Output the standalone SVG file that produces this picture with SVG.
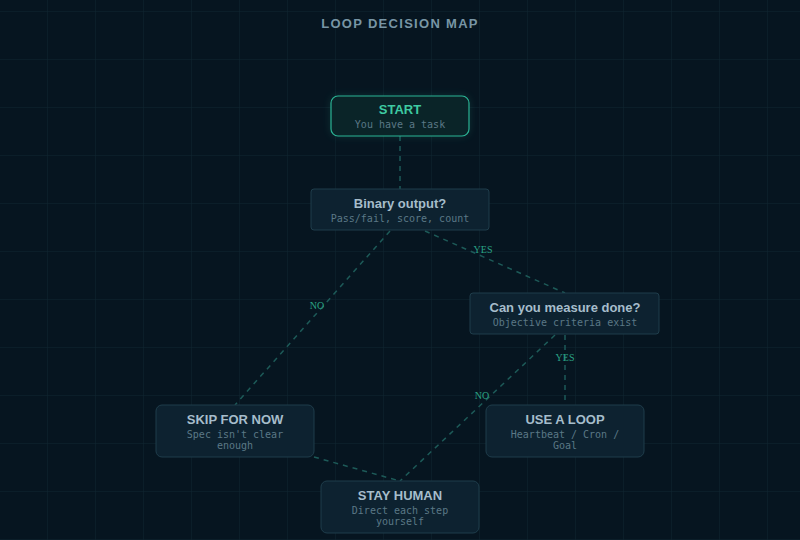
<svg xmlns="http://www.w3.org/2000/svg" width="800" height="540" viewBox="0 0 800 540">
<defs>
<pattern id="grid" x="0" y="12" width="48" height="48" patternUnits="userSpaceOnUse">
<path d="M48 0V48M0 48H48" fill="none" stroke="#0f2631" stroke-width="1"/>
</pattern>
<filter id="glow" x="-30%" y="-50%" width="160%" height="200%">
<feGaussianBlur stdDeviation="4"/>
</filter>
<style>
.title{font-family:"Liberation Sans",Arial,sans-serif;font-weight:bold;font-size:13px;fill:#7895a5;letter-spacing:1.3px;text-anchor:middle}
.box{fill:#0d2230;stroke:#1f3d4b;stroke-width:1}
.start{fill:#0a2428;stroke:#2bb394;stroke-width:1.2}
.h{font-family:"Liberation Sans",Arial,sans-serif;font-weight:bold;font-size:13px;fill:#a6bdcb;text-anchor:middle}
.hs{font-family:"Liberation Sans",Arial,sans-serif;font-weight:bold;font-size:13px;fill:#3ecaa2;text-anchor:middle}
.s{font-family:"DejaVu Sans Mono","Liberation Mono",monospace;font-size:10px;fill:#5b7886;text-anchor:middle}
.c{fill:none;stroke:#1d5a58;stroke-width:1.5;stroke-dasharray:5 5}
.lbl{font-family:"Liberation Serif","Times New Roman",serif;font-size:10px;fill:#2aa285;text-anchor:middle}
</style>
</defs>
<rect width="800" height="540" fill="#061520"/>
<rect width="800" height="540" fill="url(#grid)"/>
<text class="title" x="400" y="28">LOOP DECISION MAP</text>
<g id="connectors">
<path class="c" d="M400 136V189"/>
<path class="c" d="M390 231L235 405"/>
<path class="c" d="M425 231L565 293"/>
<path class="c" d="M555 335L400 481"/>
<path class="c" d="M565 335V405"/>
<path class="c" d="M314 457L400 481"/>
<text class="lbl" x="317" y="309">NO</text>
<text class="lbl" x="483" y="253">YES</text>
<text class="lbl" x="565" y="361">YES</text>
<text class="lbl" x="482" y="399">NO</text>
</g>
<g id="start">
<rect x="331" y="96" width="138" height="40" rx="7" fill="#2bb394" opacity="0.2" filter="url(#glow)"/>
<rect class="start" x="331" y="96" width="138" height="40" rx="7"/>
<text class="hs" x="400" y="114">START</text>
<text class="s" x="400" y="128">You have a task</text>
</g>
<g id="binary">
<rect class="box" x="311" y="189" width="178" height="41" rx="3"/>
<text class="h" x="400" y="208">Binary output?</text>
<text class="s" x="400" y="222">Pass/fail, score, count</text>
</g>
<g id="measure">
<rect class="box" x="470" y="293" width="189" height="41" rx="3"/>
<text class="h" x="565" y="312">Can you measure done?</text>
<text class="s" x="565" y="326">Objective criteria exist</text>
</g>
<g id="skip">
<rect class="box" x="156" y="405" width="158" height="52" rx="6"/>
<text class="h" x="235" y="424">SKIP FOR NOW</text>
<text class="s" x="235" y="438">Spec isn't clear</text>
<text class="s" x="235" y="449">enough</text>
</g>
<g id="loop">
<rect class="box" x="486" y="405" width="158" height="52" rx="6"/>
<text class="h" x="565" y="424">USE A LOOP</text>
<text class="s" x="565" y="438">Heartbeat / Cron /</text>
<text class="s" x="565" y="449">Goal</text>
</g>
<g id="human">
<rect class="box" x="321" y="481" width="158" height="52" rx="6"/>
<text class="h" x="400" y="500">STAY HUMAN</text>
<text class="s" x="400" y="514">Direct each step</text>
<text class="s" x="400" y="525">yourself</text>
</g>
</svg>
